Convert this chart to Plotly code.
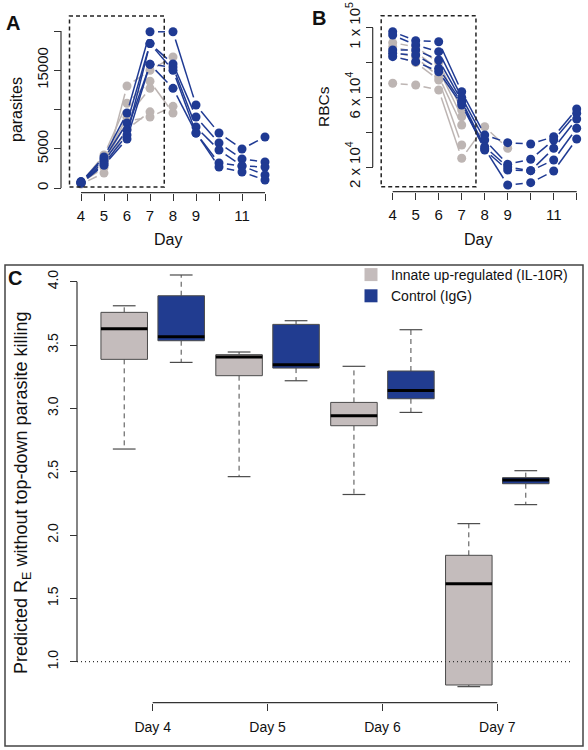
import math
import plotly.graph_objects as go

# ---------------- data ----------------
days = [4, 5, 6, 7, 8, 9, 10, 11, 12]
day_labeled = [4, 5, 6, 7, 8, 9, 11]
day_unlabeled = [10, 12]

# Panel A: parasites per mouse (control IgG, days 4-12)
parasites_igg = [
    [760, 3950, 9550, 19900, 19900, 10570, 7000, 4970, 6500],
    [820, 3700, 8280, 18400, 15800, 9050, 5730, 3690, 3310],
    [700, 3400, 7390, 15750, 15400, 7770, 4840, 2800, 2680],
    [650, 3100, 6750, 18400, 15000, 7000, 3180, 2800, 1660],
    [600, 2900, 6240, 15750, 12700, 7000, 2680, 2040, 1020],
]
# Panel A: parasites per mouse (IL-10R, days 4-8)
parasites_il10r = [
    [500, 1900, 13000, 15000, 16700],
    [700, 4200, 10800, 13600, 9550],
    [600, 3600, 9000, 12700, None],
    [550, 3200, 8500, 9050, 10400],
    [650, 2600, 7500, 9700, None],
]
parasite_labeled = [0, 5000, 15000]
parasite_unlabeled = [10000, 20000]

# Panel B: RBCs per mouse
rbc_igg = [
    [97700, 92530, 91960, 63240, 38380, 33960, 33210, 37400, 53310],
    [95800, 90070, 86220, 60000, 35500, 21550, 24420, 35500, 50840],
    [87200, 87200, 81450, 58000, 31660, 20000, 17880, 30740, 47570],
    [85300, 84320, 76680, 57000, 29760, 18280, 17880, 24020, 42230],
    [83350, 80480, 74730, 55600, 30500, 9660, 10990, 17700, 36080],
]
rbc_il10r = [
    [91390, 89000, 80000, 52740],
    [89000, 86000, 76000, 48890],
    [86000, 83000, 72000, 44120],
    [84000, 80000, 69970, 32630],
    [68070, 67090, 64220, 25000, 43140, 30740],
]
rbc_labeled = [20000, 60000, 100000]
rbc_labels = ["2 x 10<sup>4</sup>", "6 x 10<sup>4</sup>", "1 x 10<sup>5</sup>"]
rbc_unlabeled = [40000, 80000]

# highlighted window (days 4-7)
window_days = [3.5, 7.62]

# Panel C: predicted R_E box statistics
days_c = [4, 5, 6, 7]
day_c_text = ["Day 4", "Day 5", "Day 6", "Day 7"]
il10r_stats = dict(
    lower=[2.679, 2.461, 2.32, 0.803],
    q1=[3.387, 3.258, 2.863, 0.816],
    median=[3.629, 3.405, 2.942, 1.616],
    q3=[3.758, 3.424, 3.047, 1.84],
    upper=[3.81, 3.445, 3.332, 2.09],
)
igg_stats = dict(
    lower=[3.363, 3.218, 2.968, 2.24],
    q1=[3.534, 3.318, 3.076, 2.405],
    median=[3.566, 3.345, 3.142, 2.434],
    q3=[3.889, 3.663, 3.295, 2.453],
    upper=[4.053, 3.692, 3.621, 2.508],
)
re_ticks = [1.0, 1.5, 2.0, 2.5, 3.0, 3.5, 4.0]
threshold = 1.0

# ---------------- style ----------------
W, H = 588, 750
BLUE = "#1f3a93"
GREY = "#bdb5b3"
BOXGREY = "#c4bcbc"
BOXBLUE = "#213c90"
INK = "#333333"
FONT = "Liberation Sans, Arial, sans-serif"


def px_x(p):
    return p / W


def px_y(p):
    return 1 - p / H


def lin_range(v0, v1, p0, p1, a, b):
    s = (v1 - v0) / (p1 - p0)
    return [v0 + (a - p0) * s, v0 + (b - p0) * s]


# pixel layout of panels
A = dict(xv=(4, 12), xp=(81, 265), yv=(0, 20000), yp=(188, 31), dom_x=(64, 272), dom_y=(190, 20), xaxis_y=192.7, yaxis_x=61)
B = dict(xv=(4, 12), xp=(392.7, 576.7), yv=(20000, 100000), yp=(167, 27.7), dom_x=(376, 584), dom_y=(190, 20), xaxis_y=191.7, yaxis_x=372.7)
C = dict(xv=(4, 7), xp=(152.7, 497.3), yv=(1.0, 4.0), yp=(661.7, 281.7), dom_x=(77, 573), dom_y=(718, 268), xaxis_y=702.7, yaxis_x=77)


def scales(P):
    sx = abs((P["xp"][1] - P["xp"][0]) / (P["xv"][1] - P["xv"][0]))
    sy = abs((P["yp"][1] - P["yp"][0]) / (P["yv"][1] - P["yv"][0]))
    return sx, sy


def gapped(xs, ys, sx, sy, gap=8.0):
    """Segments between consecutive points, shortened at both ends (R type='b')."""
    gx, gy = [], []
    for i in range(len(ys) - 1):
        if ys[i] is None or ys[i + 1] is None:
            continue
        dx, dy = xs[i + 1] - xs[i], ys[i + 1] - ys[i]
        L = math.hypot(dx * sx, dy * sy)
        if L <= 2 * gap:
            continue
        f = gap / L
        gx += [xs[i] + dx * f, xs[i + 1] - dx * f, None]
        gy += [ys[i] + dy * f, ys[i + 1] - dy * f, None]
    return gx, gy


fig = go.Figure()


def add_series(series_list, color, xa, ya, P):
    sx, sy = scales(P)
    for ys in series_list:
        xs = days[: len(ys)]
        gx, gy = gapped(xs, ys, sx, sy)
        fig.add_trace(go.Scatter(x=gx, y=gy, mode="lines", line=dict(color=color, width=1.5),
                                 xaxis=xa, yaxis=ya, showlegend=False, hoverinfo="skip"))
        fig.add_trace(go.Scatter(x=xs, y=ys, mode="markers", marker=dict(color=color, size=9),
                                 xaxis=xa, yaxis=ya, showlegend=False, cliponaxis=False))


add_series(parasites_il10r, GREY, "x", "y", A)
add_series(parasites_igg, BLUE, "x", "y", A)
add_series(rbc_il10r, GREY, "x2", "y2", B)
add_series(rbc_igg, BLUE, "x2", "y2", B)

# ---- panel C boxes ----
HW = 0.2025
CAP = 0.099
OFF = 0.248


def add_boxes(stats, offset, fill):
    bx, by, mx, my, wx, wy, cx, cy = [], [], [], [], [], [], [], []
    for i, d in enumerate(days_c):
        c = d + offset
        q1, q3 = stats["q1"][i], stats["q3"][i]
        bx += [c - HW, c + HW, c + HW, c - HW, c - HW, None]
        by += [q1, q1, q3, q3, q1, None]
        mx += [c - HW, c + HW, None]
        my += [stats["median"][i]] * 2 + [None]
        wx += [c, c, None, c, c, None]
        wy += [q3, stats["upper"][i], None, q1, stats["lower"][i], None]
        cx += [c - CAP, c + CAP, None, c - CAP, c + CAP, None]
        cy += [stats["upper"][i]] * 2 + [None] + [stats["lower"][i]] * 2 + [None]
    common = dict(xaxis="x3", yaxis="y3", showlegend=False, hoverinfo="skip")
    fig.add_trace(go.Scatter(x=wx, y=wy, mode="lines", line=dict(color="#4a4a4a", width=1, dash="5px,4px"), **common))
    fig.add_trace(go.Scatter(x=cx, y=cy, mode="lines", line=dict(color="#4a4a4a", width=1.2), **common))
    fig.add_trace(go.Scatter(x=bx, y=by, mode="lines", fill="toself", fillcolor=fill,
                             line=dict(color="#4a4a4a", width=1), **common))
    fig.add_trace(go.Scatter(x=mx, y=my, mode="lines", line=dict(color="black", width=3), **common))


add_boxes(il10r_stats, -OFF, BOXGREY)
add_boxes(igg_stats, OFF, BOXBLUE)

# legend entries
fig.add_trace(go.Scatter(x=[None], y=[None], mode="markers", name="Innate up-regulated (IL-10R)",
                         marker=dict(symbol="square", size=13, color=BOXGREY), xaxis="x3", yaxis="y3"))
fig.add_trace(go.Scatter(x=[None], y=[None], mode="markers", name="Control (IgG)",
                         marker=dict(symbol="square", size=13, color=BOXBLUE), xaxis="x3", yaxis="y3"))


def make_axis(domain, rng, position, tickvals, ticktext, minor_vals, tfont, stand, angle=None):
    ax = dict(domain=domain, range=rng, anchor="free", position=position,
              showgrid=False, zeroline=False, showline=False,
              ticks="outside", ticklen=7, tickwidth=1.2, tickcolor=INK,
              tickmode="array", tickvals=tickvals, ticktext=ticktext,
              tickfont=dict(size=tfont, color="#111"), ticklabelstandoff=stand)
    if angle is not None:
        ax["tickangle"] = angle
    if minor_vals:
        ax["minor"] = dict(tickmode="array", tickvals=minor_vals, ticks="outside", ticklen=7,
                           tickwidth=1.2, tickcolor=INK, showgrid=False)
    return ax


def axes_for(P, xt, xtt, xminor, yt, ytt, yminor, tfont, xstand, ystand):
    xr = lin_range(P["xv"][0], P["xv"][1], P["xp"][0], P["xp"][1], P["dom_x"][0], P["dom_x"][1])
    yr = lin_range(P["yv"][0], P["yv"][1], P["yp"][0], P["yp"][1], P["dom_y"][0], P["dom_y"][1])
    xa = make_axis([px_x(P["dom_x"][0]), px_x(P["dom_x"][1])], xr, px_y(P["xaxis_y"]), xt, xtt, xminor, tfont, xstand)
    ya = make_axis([px_y(P["dom_y"][0]), px_y(P["dom_y"][1])], yr, px_x(P["yaxis_x"]), yt, ytt, yminor, tfont, ystand, angle=-90)
    return xa, ya


xa1, ya1 = axes_for(A, day_labeled, [str(d) for d in day_labeled], day_unlabeled,
                    parasite_labeled, [str(v) for v in parasite_labeled], parasite_unlabeled, 15, 2, 0)
xa2, ya2 = axes_for(B, day_labeled, [str(d) for d in day_labeled], day_unlabeled,
                    rbc_labeled, rbc_labels, rbc_unlabeled, 15, 2, 0)
xa3, ya3 = axes_for(C, days_c, day_c_text, None, re_ticks, [f"{v:.1f}" for v in re_ticks], None, 14, 4, 6)

shapes = []


def axis_lines(P, xref, yref, x_lo, x_hi, y_lo, y_hi):
    shapes.append(dict(type="line", xref=xref, yref="paper", x0=x_lo, x1=x_hi,
                       y0=px_y(P["xaxis_y"]), y1=px_y(P["xaxis_y"]), line=dict(color=INK, width=1.2)))
    shapes.append(dict(type="line", xref="paper", yref=yref, x0=px_x(P["yaxis_x"]), x1=px_x(P["yaxis_x"]),
                       y0=y_lo, y1=y_hi, line=dict(color=INK, width=1.2)))


axis_lines(A, "x", "y", days[0], days[-1], 0, 20000)
axis_lines(B, "x2", "y2", days[0], days[-1], 20000, 100000)
axis_lines(C, "x3", "y3", days_c[0], days_c[-1], re_ticks[0], re_ticks[-1])

# highlighted windows
shapes.append(dict(type="rect", xref="x", yref="paper", x0=window_days[0], x1=window_days[1],
                   y0=px_y(187), y1=px_y(16), line=dict(color="#222", width=1.5, dash="4px,3px")))
shapes.append(dict(type="rect", xref="x2", yref="paper", x0=window_days[0], x1=window_days[1],
                   y0=px_y(186.7), y1=px_y(15.7), line=dict(color="#222", width=1.5, dash="4px,3px")))
# threshold line in C
shapes.append(dict(type="line", xref="x3 domain", yref="y3", x0=0, x1=1, y0=threshold, y1=threshold,
                   line=dict(color=INK, width=1.2, dash="1px,3px")))
# panel C frame
shapes.append(dict(type="rect", xref="paper", yref="paper", x0=px_x(5), x1=px_x(583), y0=px_y(746), y1=px_y(265),
                   line=dict(color="#444", width=1.5)))

annotations = []


def label(text, x, y, size, angle=0, bold=False):
    annotations.append(dict(text=f"<b>{text}</b>" if bold else text, x=px_x(x), y=px_y(y), xref="paper", yref="paper",
                            showarrow=False, textangle=angle, xanchor="center", yanchor="middle",
                            font=dict(size=size, color="#111", family=FONT)))


label("A", 13, 23, 20, bold=True)
label("B", 319, 18, 20, bold=True)
label("C", 15, 278, 20, bold=True)
label("parasites", 16, 110, 16, angle=-90)
label("RBCs", 323, 107, 15.5, angle=-90)
label("Day", 168, 239, 16)
label("Day", 478, 239, 16)
label("Predicted R<sub>E</sub> without top-down parasite killing", 22, 493, 18, angle=-90)

fig.update_layout(
    width=W, height=H, margin=dict(l=0, r=0, t=0, b=0, pad=0, autoexpand=False),
    paper_bgcolor="white", plot_bgcolor="white",
    font=dict(family=FONT, color="#111"),
    xaxis=xa1, yaxis=ya1, xaxis2=xa2, yaxis2=ya2, xaxis3=xa3, yaxis3=ya3,
    shapes=shapes, annotations=annotations,
    showlegend=True,
    legend=dict(x=px_x(351), y=px_y(259), xanchor="left", yanchor="top", bgcolor="rgba(0,0,0,0)",
                font=dict(size=14, color="#111"), tracegroupgap=0, itemclick=False, itemdoubleclick=False),
)

fig.write_html("out.html", config={"displayModeBar": False},
               post_script="document.body.style.margin='0px';document.body.style.overflow='hidden';")
